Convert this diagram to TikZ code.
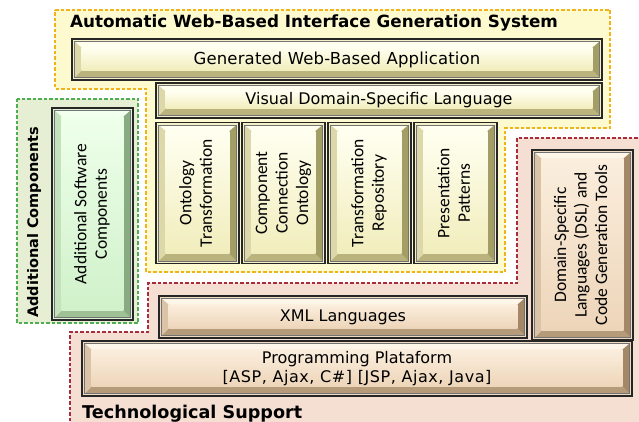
\documentclass[tikz,border=0pt]{standalone}
\usepackage{fontspec}
\usepackage{graphicx}
\setmainfont{DejaVu Sans}
\newfontfamily\calib{Carlito}
\usetikzlibrary{calc}

% region colours
\definecolor{yReg}{HTML}{FEFAD0}
\definecolor{gReg}{HTML}{E6EED4}
\definecolor{pReg}{HTML}{F5DFD2}
\definecolor{yDash}{HTML}{F0B418}
\definecolor{gDash}{HTML}{4FAF50}
\definecolor{pDash}{HTML}{A82C3C}
% yellow button
\definecolor{yGap}{HTML}{F4F0C8}
\definecolor{yTop}{HTML}{FFFFF0}
\definecolor{yBot}{HTML}{BAB37E}
\definecolor{yLeft}{HTML}{DCD8AA}
\definecolor{yRight}{HTML}{A39D66}
\definecolor{yFaceT}{HTML}{FFFFF0}
\definecolor{yFaceB}{HTML}{F1EDBC}
% green button
\definecolor{gGap}{HTML}{DDF2D6}
\definecolor{gTop}{HTML}{F2FFEE}
\definecolor{gBot}{HTML}{9EC196}
\definecolor{gLeft}{HTML}{C4E2BC}
\definecolor{gRight}{HTML}{88AB81}
\definecolor{gFaceT}{HTML}{EEFFEA}
\definecolor{gFaceB}{HTML}{D0F1CA}
% peach button
\definecolor{pGap}{HTML}{F0DCC4}
\definecolor{pTop}{HTML}{FFF6EA}
\definecolor{pBot}{HTML}{B69B7A}
\definecolor{pLeft}{HTML}{DAC3A6}
\definecolor{pRight}{HTML}{A38767}
\definecolor{pFaceT}{HTML}{FBEEDD}
\definecolor{pFaceB}{HTML}{EDD5B9}

\newcommand\rottext[1]{\rotatebox{90}{\calib\fontsize{17.5}{20.5}\selectfont\begin{tabular}{@{}c@{}}#1\end{tabular}}}

\tikzset{
  bevbox/.style={rectangle, inner sep=0pt, outer sep=0pt, draw=black!85,
    line width=1.5pt, fill=#1Gap, align=center,
    font=\fontsize{16}{19}\selectfont,
    path picture={
      \coordinate (pa) at ([shift={(2.6pt,2.6pt)}]path picture bounding box.south west);
      \coordinate (pb) at ([shift={(-2.6pt,-2.6pt)}]path picture bounding box.north east);
      \coordinate (pc) at ([shift={(7pt,7pt)}]pa);
      \coordinate (pd) at ([shift={(-7pt,-6pt)}]pb);
      \fill[#1Top] (pa |- pb) -- (pb) -- (pd) -- (pc |- pd) -- cycle;
      \fill[#1Bot] (pa) -- (pb |- pa) -- (pd |- pc) -- (pc) -- cycle;
      \fill[#1Left] (pa) -- (pa |- pb) -- (pc |- pd) -- (pc) -- cycle;
      \fill[#1Right] (pb |- pa) -- (pb) -- (pd) -- (pd |- pc) -- cycle;
      \shade[top color=#1FaceT, bottom color=#1FaceB] (pc) rectangle (pd);
      \draw[black!55, line width=0.6pt] (pa) rectangle (pb);
    }},
  region/.style={line width=1.2pt, dash pattern=on 3.5pt off 2pt},
  title/.style={inner sep=0pt, anchor=base west, font=\bfseries\fontsize{#1}{#1}\selectfont},
}

\begin{document}
\begin{tikzpicture}[x=1pt,y=-1pt]
\useasboundingbox (0,0) rectangle (639,422);
\clip (0,0) rectangle (639,422);
\fill[white] (0,0) rectangle (639,422);

% regions
\draw[region, draw=pDash, fill=pReg] (70,432) -- (70,332) -- (148,332) -- (148,283)
  -- (517,283) -- (517,138) -- (650,138) -- (650,432) -- cycle;
\draw[region, draw=yDash, fill=yReg] (55,10) -- (610,10) -- (610,128) -- (505,128)
  -- (505,272) -- (146,272) -- (146,89) -- (55,89) -- cycle;
\draw[region, draw=gDash, fill=gReg] (17,99) rectangle (138,323);

% titles
\node[title=16.8] (ttl) at (70,27.5) {Automatic Web-Based Interface Generation System};
\node[title=14.5, rotate=90] (addc) at (38,318) {Additional Components};
\node[title=17.6] (tech) at (82,418) {Technological Support};

% yellow boxes
\node[bevbox=y, minimum width=530pt, minimum height=41pt] (gen) at (337,59.5) {\addfontfeatures{LetterSpace=1}\fontsize{16.5}{19}\selectfont Generated Web-Based Application};
\node[bevbox=y, minimum width=446pt, minimum height=35pt] (vdsl) at (379,100.5) {Visual Domain-Specific Language};
\node[bevbox=y, minimum width=83pt, minimum height=141pt] (ont) at (197.5,193) {\rottext{Ontology\\Transformation}};
\node[bevbox=y, minimum width=83pt, minimum height=141pt] (cco) at (283.5,193) {\rottext{Component\\Connection\\Ontology}};
\node[bevbox=y, minimum width=83pt, minimum height=141pt] (trep) at (369.5,193) {\rottext{Transformation\\Repository}};
\node[bevbox=y, minimum width=83pt, minimum height=141pt] (pres) at (455.5,193) {\rottext{Presentation\\Patterns}};

% green box
\node[bevbox=g, minimum width=81pt, minimum height=212pt] (asc) at (92.5,214) {\rottext{Additional Software\\Components}};

% peach boxes
\node[bevbox=p, minimum width=101pt, minimum height=190pt] (dsl) at (582.5,245) {\rottext{Domain-Specific\\Languages (DSL) and\\Code Generation Tools}};
\node[bevbox=p, minimum width=368pt, minimum height=42pt] (xml) at (343,317) {XML Languages};
\node[bevbox=p, minimum width=550pt, minimum height=55pt] (prog) at (357,368.5) {Programming Plataform\\{\addfontfeatures{LetterSpace=3.5}[ASP, Ajax, C\#] [JSP, Ajax, Java]}};
\end{tikzpicture}
\end{document}
